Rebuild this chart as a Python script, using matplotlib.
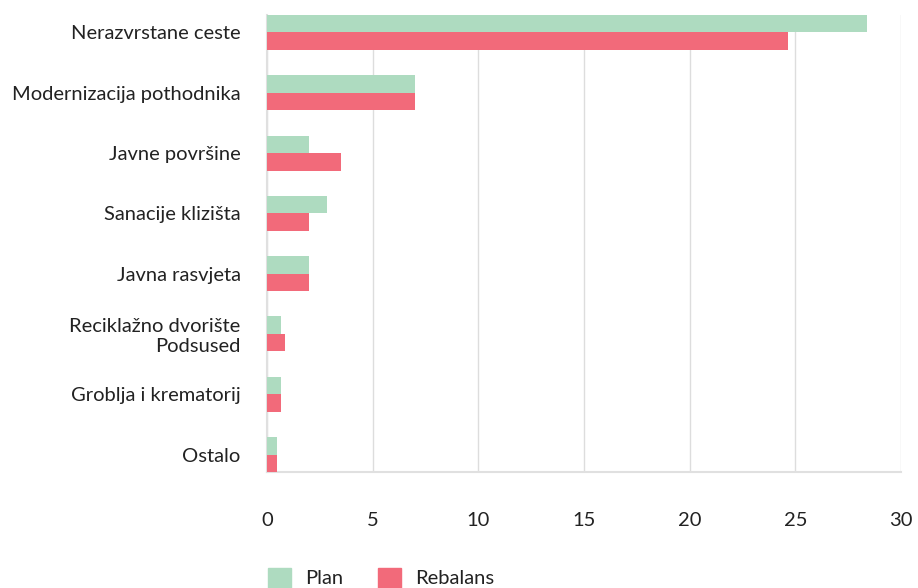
import numpy as np
import matplotlib.pyplot as plt
from matplotlib.patches import Patch

categories = ["Nerazvrstane ceste", "Modernizacija pothodnika", "Javne površine",
              "Sanacije klizišta", "Javna rasvjeta", "Reciklažno dvorište\nPodsused",
              "Groblja i krematorij", "Ostalo"]
plan = [28.4, 7.0, 2.0, 2.85, 2.0, 0.64, 0.64, 0.45]
rebalans = [24.65, 7.0, 3.52, 2.0, 2.0, 0.83, 0.64, 0.45]
xticks = [0, 5, 10, 15, 20, 25, 30]

GREEN = "#aedbc0"
RED = "#f26a7a"
TXT = "#222222"

plt.rcParams['font.family'] = ['Lato', 'DejaVu Sans']

fig = plt.figure(figsize=(9.18, 5.88), dpi=100)
ax = fig.add_axes([267/918, 1 - 472/588, (901-267)/918, (472-15)/588])

y = np.arange(len(categories))
h = 0.29
ax.barh(y - h/2, plan, height=h, color=GREEN, label="Plan", zorder=3)
ax.barh(y + h/2, rebalans, height=h, color=RED, label="Rebalans", zorder=3)

ax.set_ylim(len(categories) - 1 + h, -h)
ax.set_xlim(0, 30)
ax.set_xticks(xticks)
ax.set_xticklabels([str(t) for t in xticks])
ax.set_yticks(y)
ax.set_yticklabels(categories, ha='right', multialignment='right')

ax.tick_params(axis='both', length=0, labelsize=14.5, colors=TXT)
ax.tick_params(axis='x', pad=29)
ax.tick_params(axis='y', pad=19)

ax.grid(axis='x', color="#dddddd", linewidth=1, zorder=0)
for s in ['top', 'right']:
    ax.spines[s].set_visible(False)
for s in ['left', 'bottom']:
    ax.spines[s].set_color("#e0e0e0")
    ax.spines[s].set_linewidth(1.5)

handles = [Patch(color=GREEN, label="Plan"), Patch(color=RED, label="Rebalans")]
fig.legend(handles=handles, loc='lower left', bbox_to_anchor=(250/918, -0.03),
           ncol=2, frameon=False, fontsize=14.5, handlelength=1.15, handleheight=1.15,
           columnspacing=1.7, handletextpad=0.7, labelcolor=TXT)

fig.savefig("out.png", dpi=100)
